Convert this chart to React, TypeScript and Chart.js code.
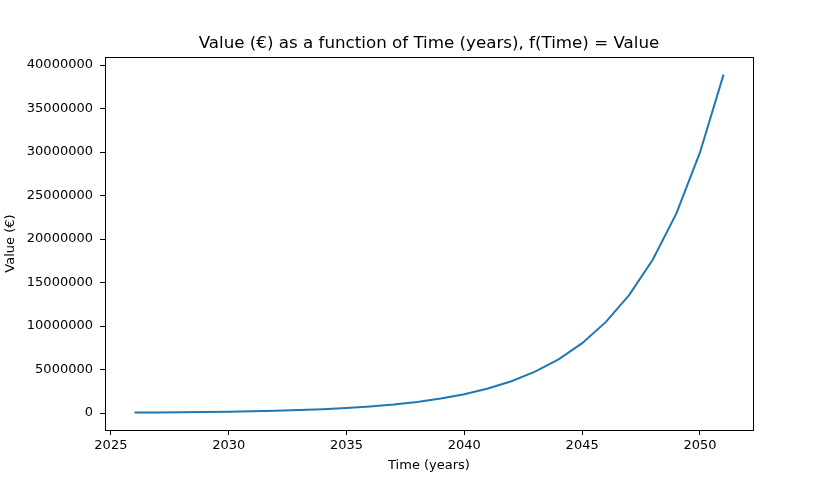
import React, { useEffect, useRef } from "react";
import { Chart, registerables } from "chart.js";

Chart.register(...registerables);

const years = [2026, 2027, 2028, 2029, 2030, 2031, 2032, 2033, 2034, 2035, 2036, 2037, 2038, 2039, 2040, 2041, 2042, 2043, 2044, 2045, 2046, 2047, 2048, 2049, 2050, 2051];
const values = [55000, 71000, 93000, 121000, 157000, 204000, 265000, 345000, 448000, 583000, 758000, 985000, 1280000, 1670000, 2170000, 2820000, 3660000, 4760000, 6180000, 8030000, 10450000, 13580000, 17650000, 22950000, 29950000, 38900000];
const xTicks = [2025, 2030, 2035, 2040, 2045, 2050];
const yTicks = [0, 5000000, 10000000, 15000000, 20000000, 25000000, 30000000, 35000000, 40000000];

const FONT = "'DejaVu Sans', sans-serif";

const boxPlugin = {
  id: "box",
  afterDraw(chart: any) {
    const { ctx, chartArea } = chart;
    ctx.save();
    ctx.strokeStyle = "#000";
    ctx.lineWidth = 1;
    ctx.strokeRect(Math.round(chartArea.left) + 0.5, Math.round(chartArea.top) + 0.5, Math.round(chartArea.right - chartArea.left), Math.round(chartArea.bottom - chartArea.top));
    ctx.restore();
  },
};

export default function App() {
  const ref = useRef<HTMLCanvasElement>(null);
  useEffect(() => {
    const chart = new Chart(ref.current!, {
      type: "line",
      data: {
        datasets: [
          {
            data: years.map((y, i) => ({ x: y, y: values[i] })),
            borderColor: "#1f77b4",
            borderWidth: 2,
            pointRadius: 0,
            tension: 0,
            fill: false,
          },
        ],
      },
      plugins: [boxPlugin],
      options: {
        animation: false,
        responsive: false,
        layout: { padding: { left: 0, right: 83, top: 0, bottom: 0 } },
        plugins: {
          legend: { display: false },
          tooltip: { enabled: false },
          title: {
            display: true,
            text: "Value (€) as a function of Time (years), f(Time) = Value",
            color: "#000",
            font: { family: FONT, size: 16.7, weight: "normal", lineHeight: 1.2 },
            padding: { top: 34, bottom: 3 },
            fullSize: false,
          } as any,
        },
        scales: {
          x: {
            type: "linear",
            min: 2024.75,
            max: 2052.25,
            afterBuildTicks: (s: any) => {
              s.ticks = xTicks.map((v) => ({ value: v }));
            },
            afterFit: (s: any) => {
              s.height = 53;
            },
            ticks: {
              color: "#000",
              font: { family: FONT, size: 13 },
              padding: 3,
              maxRotation: 0,
              autoSkip: false,
              callback: (v: any) => String(v),
            },
            grid: { drawOnChartArea: false, drawTicks: true, tickLength: 5, color: "#000" },
            border: { display: true, color: "#000" },
            title: {
              display: true,
              text: "Time (years)",
              color: "#000",
              font: { family: FONT, size: 13 },
              padding: { top: 0, bottom: 10 },
            },
          },
          y: {
            type: "linear",
            min: -1950000,
            max: 40920000,
            afterBuildTicks: (s: any) => {
              s.ticks = yTicks.map((v) => ({ value: v }));
            },
            afterFit: (s: any) => {
              s.width = 105;
            },
            ticks: {
              color: "#000",
              font: { family: FONT, size: 13 },
              padding: 7,
              autoSkip: false,
              callback: (v: any) => String(v),
            },
            grid: { drawOnChartArea: false, drawTicks: true, tickLength: 5, color: "#000" },
            border: { display: true, color: "#000" },
            title: {
              display: true,
              text: "Value (€)",
              color: "#000",
              font: { family: FONT, size: 13 },
              padding: { top: 3, bottom: 0 },
            },
          },
        },
      },
    });
    return () => chart.destroy();
  }, []);
  return (
    <div style={{ position: "fixed", left: 0, top: 0, width: 836, height: 483, background: "#fff" }}>
      <canvas ref={ref} width={836} height={483} style={{ display: "block" }} />
    </div>
  );
}
